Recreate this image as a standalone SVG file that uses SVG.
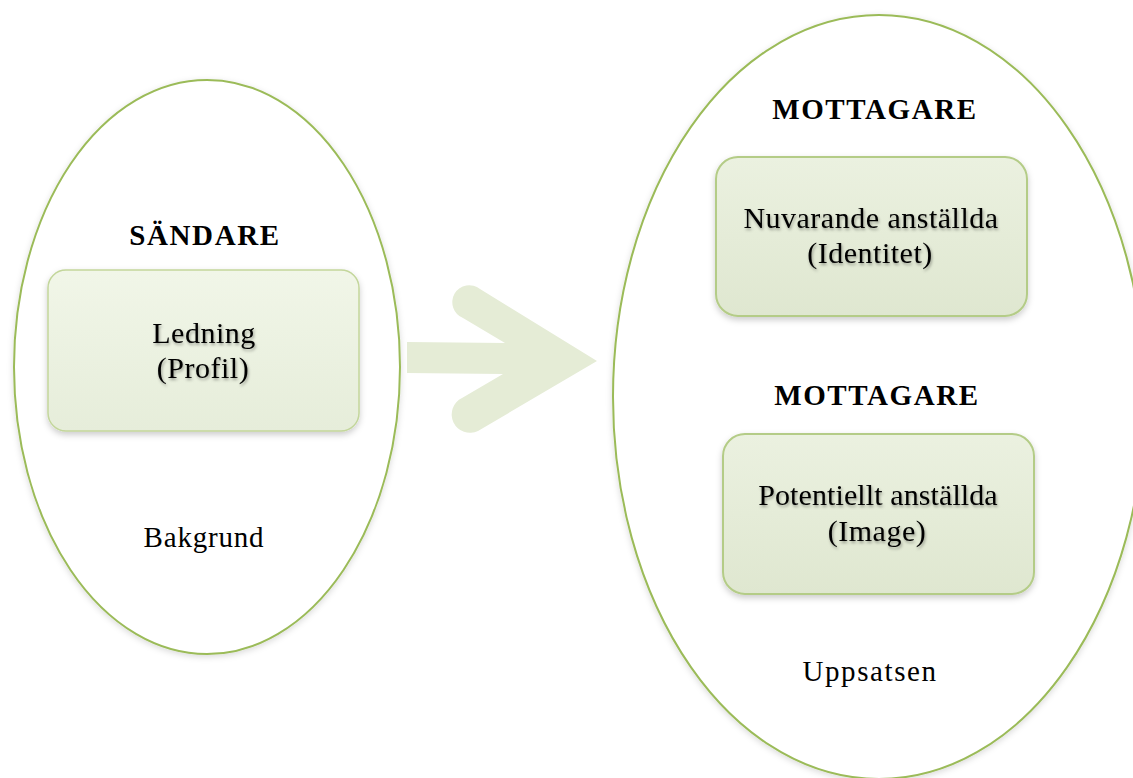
<svg xmlns="http://www.w3.org/2000/svg" width="1133" height="778" viewBox="0 0 1133 778">
<style>
.ell{fill:#ffffff;stroke:#9bbb59;stroke-width:2}
.box{fill:url(#g);stroke:#c3d69b;stroke-width:1.5}
.box2{fill:url(#g2);stroke:#b4cc87;stroke-width:2}
.t{font-family:"Liberation Serif",serif;font-size:29px;fill:#000;text-anchor:middle;letter-spacing:0.8px}
.h{font-weight:bold;font-size:29px;letter-spacing:1.6px}
.bt{filter:url(#ts);font-size:30px;letter-spacing:0.5px}
</style>
<defs>
<linearGradient id="g" x1="0" y1="0" x2="0" y2="1">
<stop offset="0" stop-color="#f1f6e8"/><stop offset="1" stop-color="#e6edda"/>
</linearGradient>
<linearGradient id="g2" x1="0" y1="0" x2="0" y2="1">
<stop offset="0" stop-color="#ebf1e0"/><stop offset="1" stop-color="#dfe7d0"/>
</linearGradient>
<filter id="sh" x="-10%" y="-10%" width="120%" height="130%">
<feDropShadow dx="0" dy="3" stdDeviation="3" flood-color="#000" flood-opacity="0.2"/>
</filter>
<filter id="es" x="-5%" y="-5%" width="110%" height="110%">
<feDropShadow dx="0" dy="2" stdDeviation="3" flood-color="#000" flood-opacity="0.15"/>
</filter>
<filter id="ts" x="-10%" y="-20%" width="120%" height="150%">
<feDropShadow dx="1" dy="2" stdDeviation="1.5" flood-color="#000" flood-opacity="0.35"/>
</filter>
</defs>
<rect width="1133" height="778" fill="#ffffff"/>
<g id="sender">
<ellipse class="ell" cx="207" cy="367" rx="193" ry="287" filter="url(#es)"/>
<text class="t h" x="205" y="245">SÄNDARE</text>
<text class="t" x="204" y="547">Bakgrund</text>
</g>
<g id="receiver">
<ellipse class="ell" cx="879" cy="397" rx="266" ry="382" filter="url(#es)"/>
<text class="t h" x="875" y="119">MOTTAGARE</text>
<text class="t h" x="877" y="405">MOTTAGARE</text>
<text class="t" x="870" y="681" style="letter-spacing:1.6px">Uppsatsen</text>
</g>
<g id="ledning">
<rect class="box" x="48" y="270" width="311" height="161" rx="18" filter="url(#sh)"/>
<text class="t bt" x="204" y="343">Ledning</text>
<text class="t bt" x="203" y="378">(Profil)</text>
</g>
<g id="nuvarande">
<rect class="box2" x="716" y="157" width="311" height="159" rx="22" filter="url(#sh)"/>
<text class="t bt" x="871" y="228">Nuvarande anställda</text>
<text class="t bt" x="870" y="263">(Identitet)</text>
</g>
<g id="potentiellt">
<rect class="box2" x="723" y="434" width="311" height="160" rx="22" filter="url(#sh)"/>
<text class="t bt" x="878" y="505" style="letter-spacing:0.1px">Potentiellt anställda</text>
<text class="t bt" x="877" y="541">(Image)</text>
</g>
<g id="connectors">
<path d="M407,342 L505,343 L463,318 A17,17 0 1 1 480,289 L597,361 L478,431 A17,17 0 1 1 462,398 L503,374 L407,373 Z" fill="#e5ecd6"/>
</g>
</svg>
